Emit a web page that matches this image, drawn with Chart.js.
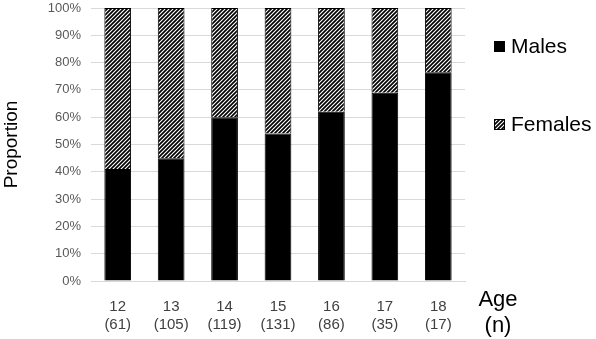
<!DOCTYPE html>
<html>
<head>
<meta charset="utf-8">
<script src="https://cdn.jsdelivr.net/npm/chart.js@4"></script>
<style>
  body { margin:0; background:#fff; }
  #wrap { position:relative; width:596px; height:339px; }
  .legend { position:absolute; left:494px; font-family:Arial, "Liberation Sans", sans-serif; font-size:21px; color:#000; display:flex; align-items:center; }
  .legend .box { width:11px; height:11px; margin-right:6px; box-sizing:border-box; border:1px solid #000; }
</style>
</head>
<body>
<div id="wrap">
  <canvas id="chart" width="596" height="339"></canvas>
  <div class="legend" style="top:34px"><span class="box" style="background:#000"></span>Males</div>
  <div class="legend" style="top:112px"><span class="box" id="femBox"></span>Females</div>
</div>
<script>
const ages     = ['12','13','14','15','16','17','18'];
const counts   = ['(61)','(105)','(119)','(131)','(86)','(35)','(17)'];
const males    = [41, 45, 60, 54, 62, 69, 76.5];
const females  = [59, 55, 40, 46, 38, 31, 23.5];

// diagonal hatch for females
function makeHatch() {
  const c = document.createElement('canvas');
  c.width = 4; c.height = 4;
  const g = c.getContext('2d');
  g.fillStyle = '#fff';
  g.fillRect(0,0,4,4);
  g.strokeStyle = '#000';
  g.lineWidth = 1.7;
  g.beginPath();
  g.moveTo(-1,5); g.lineTo(5,-1);
  g.moveTo(-1,1); g.lineTo(1,-1);
  g.moveTo(3,5); g.lineTo(5,3);
  g.stroke();
  return c;
}
const hatchCanvas = makeHatch();
const ctx = document.getElementById('chart').getContext('2d');
const hatch = ctx.createPattern(hatchCanvas, 'repeat');
document.getElementById('femBox').style.backgroundImage = `url(${hatchCanvas.toDataURL()})`;

const font = 'Arial, "Liberation Sans", sans-serif';

const ageLabel = {
  id:'ageLabel',
  afterDraw(chart){
    const c = chart.ctx;
    c.save();
    c.fillStyle = '#000';
    c.font = `22px ${font}`;
    c.textAlign = 'center';
    c.textBaseline = 'middle';
    c.fillText('Age', 498, 300);
    c.fillText('(n)', 498, 326);
    c.restore();
  }
};

new Chart(ctx, {
  type: 'bar',
  data: {
    labels: ages.map((a,i) => [a, counts[i]]),
    datasets: [
      { label:'Males', data:males, backgroundColor:'#000', borderColor:'#000', borderWidth:1,
        barPercentage:0.5, categoryPercentage:1 },
      { label:'Females', data:females, backgroundColor:hatch, borderColor:'#000', borderWidth:1,
        barPercentage:0.5, categoryPercentage:1 }
    ]
  },
  options: {
    responsive:false,
    animation:false,
    layout:{ padding:{ left:0, right:131, top:8, bottom:0 } },
    plugins:{ legend:{ display:false }, tooltip:{ enabled:false } },
    scales:{
      x:{
        stacked:true,
        grid:{ display:false },
        border:{ color:'#d9d9d9' },
        ticks:{ color:'#404040', font:{ family:font, size:15 }, padding:9, maxRotation:0 },
        afterFit(s){ s.height = 58; s.paddingLeft = 0; s.paddingRight = 0; }
      },
      y:{
        stacked:true,
        min:0, max:100,
        grid:{ color:'#d9d9d9', drawTicks:false },
        border:{ display:false },
        ticks:{ stepSize:10, color:'#595959', font:{ family:font, size:13 }, padding:10,
          callback:v => v + '%' },
        title:{ display:true, text:'Proportion', color:'#000', font:{ family:font, size:19 }, padding:0 },
        afterFit(s){ s.width = 91; s.paddingTop = 0; s.paddingBottom = 0; }
      }
    }
  },
  plugins:[ageLabel]
});
</script>
</body>
</html>
